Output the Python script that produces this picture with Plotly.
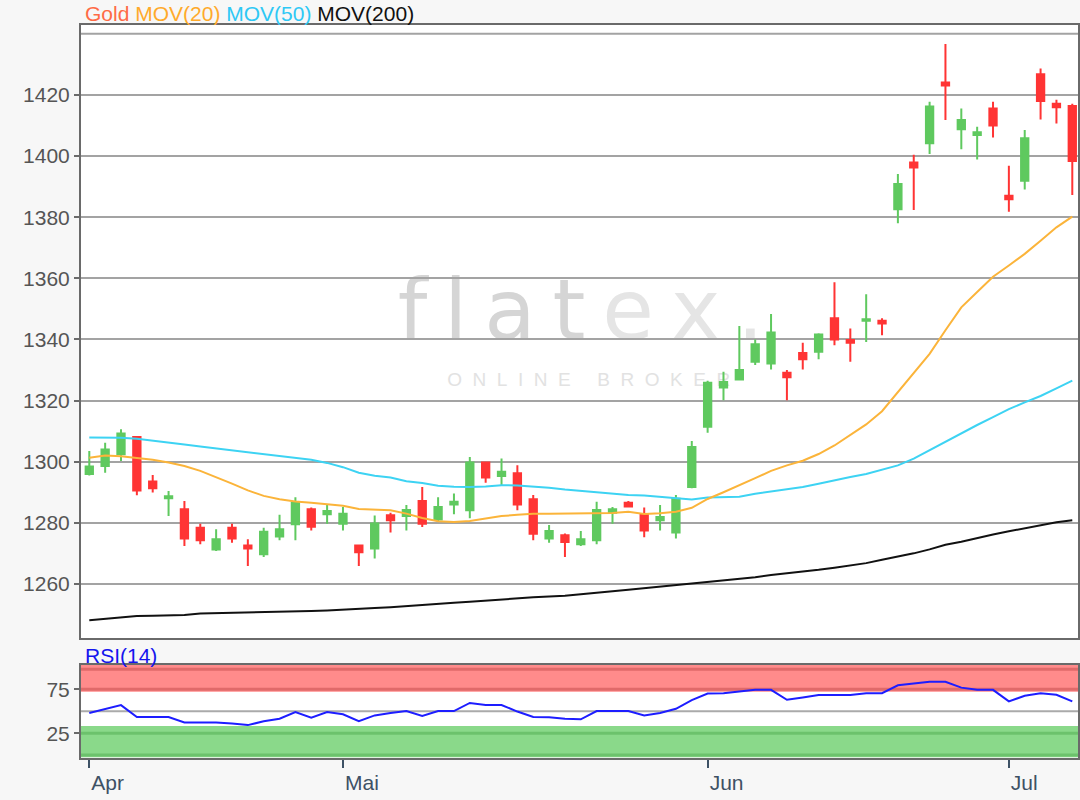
import plotly.graph_objects as go

# ---------------- data ----------------
dates = [
    "2019-04-08", "2019-04-09", "2019-04-10", "2019-04-11", "2019-04-12", "2019-04-15",
    "2019-04-16", "2019-04-17", "2019-04-18", "2019-04-22", "2019-04-23", "2019-04-24",
    "2019-04-25", "2019-04-26", "2019-04-29", "2019-04-30",
    "2019-05-01", "2019-05-02", "2019-05-03", "2019-05-06", "2019-05-07", "2019-05-08",
    "2019-05-09", "2019-05-10", "2019-05-13", "2019-05-14", "2019-05-15", "2019-05-16",
    "2019-05-17", "2019-05-20", "2019-05-21", "2019-05-22", "2019-05-23", "2019-05-24",
    "2019-05-27", "2019-05-28", "2019-05-29", "2019-05-30", "2019-05-31",
    "2019-06-03", "2019-06-04", "2019-06-05", "2019-06-06", "2019-06-07", "2019-06-10",
    "2019-06-11", "2019-06-12", "2019-06-14", "2019-06-17", "2019-06-18", "2019-06-19",
    "2019-06-20", "2019-06-21", "2019-06-24", "2019-06-25", "2019-06-26", "2019-06-27",
    "2019-06-28",
    "2019-07-01", "2019-07-02", "2019-07-03", "2019-07-04", "2019-07-05",
]

opens = [
    1296.0, 1298.6, 1302.4, 1308.1, 1293.5, 1288.0, 1284.4, 1278.4, 1271.3, 1278.4,
    1272.6, 1269.7, 1275.5, 1279.5, 1284.4, 1282.8,
    1279.7, 1272.6, 1271.6, 1282.5, 1282.2, 1287.1, 1281.1, 1286.0, 1284.1, 1299.7,
    1295.3, 1296.2, 1287.7, 1274.9, 1275.9, 1273.0, 1274.3, 1283.3, 1286.6, 1282.8,
    1280.8, 1276.8, 1291.7,
    1311.4, 1324.3, 1326.9, 1332.7, 1332.1, 1329.1, 1335.6, 1336.0, 1346.9, 1339.8,
    1346.1, 1346.1, 1382.6, 1397.9, 1404.2, 1424.1, 1408.8, 1406.9, 1415.6,
    1387.0, 1391.9, 1426.8, 1417.1, 1416.4,
]
highs = [
    1303.5, 1306.2, 1310.6, 1308.4, 1295.6, 1290.4, 1287.1, 1279.7, 1277.9, 1279.7,
    1274.6, 1278.4, 1282.6, 1288.4, 1285.0, 1285.8,
    1285.2, 1272.9, 1282.4, 1283.3, 1285.8, 1291.7, 1288.4, 1289.6, 1301.5, 1300.0,
    1301.0, 1298.8, 1289.1, 1279.3, 1276.5, 1277.3, 1286.9, 1285.2, 1287.1, 1285.0,
    1285.8, 1289.1, 1306.8,
    1326.5, 1329.4, 1344.4, 1340.0, 1348.3, 1330.0, 1338.9, 1342.0, 1358.7, 1343.6,
    1354.8, 1346.9, 1394.1, 1400.4, 1417.8, 1436.7, 1415.6, 1409.6, 1417.8,
    1396.8, 1408.5, 1428.7, 1418.4, 1417.1,
]
lows = [
    1295.5, 1296.4, 1300.2, 1289.0, 1289.9, 1282.2, 1272.4, 1273.0, 1270.8, 1273.5,
    1265.9, 1268.8, 1274.3, 1274.3, 1277.5, 1279.7,
    1277.5, 1265.9, 1268.3, 1276.8, 1277.5, 1278.6, 1280.6, 1282.8, 1281.5, 1293.1,
    1292.4, 1284.1, 1274.3, 1273.5, 1268.8, 1272.4, 1273.0, 1279.7, 1285.0, 1275.3,
    1277.5, 1274.9, 1291.3,
    1309.5, 1320.1, 1326.9, 1331.6, 1330.2, 1320.1, 1330.2, 1333.5, 1338.1, 1332.7,
    1339.2, 1341.4, 1378.0, 1382.4, 1400.7, 1411.8, 1402.2, 1398.9, 1406.1,
    1381.8, 1389.1, 1412.0, 1410.7, 1387.3,
]
closes = [
    1298.4, 1304.0, 1309.2, 1290.6, 1291.3, 1288.7, 1274.9, 1274.3, 1274.6, 1274.9,
    1271.6, 1277.1, 1277.9, 1286.6, 1278.7, 1283.9,
    1283.0, 1270.4, 1279.8, 1280.8, 1284.2, 1279.7, 1285.2, 1286.9, 1299.7, 1294.8,
    1296.7, 1286.0, 1276.4, 1277.3, 1273.7, 1274.6, 1284.2, 1284.4, 1285.3, 1277.5,
    1281.9, 1287.9, 1304.8,
    1325.8, 1326.1, 1330.0, 1338.4, 1342.3, 1327.6, 1333.5, 1341.6, 1340.0, 1338.9,
    1346.6, 1345.2, 1390.9, 1396.3, 1416.2, 1423.1, 1411.8, 1407.8, 1410.0,
    1385.9, 1405.8, 1418.0, 1416.0, 1398.4,
]

mov20 = [
    1301.3, 1302.0, 1301.8, 1301.2, 1300.6, 1299.7, 1298.6, 1297.0, 1295.0, 1292.8,
    1290.6, 1288.8, 1287.7, 1287.0, 1286.6, 1286.1,
    1285.6, 1284.5, 1284.3, 1284.1, 1283.0, 1281.6, 1280.5, 1280.3, 1280.6, 1281.5,
    1282.2, 1282.6, 1283.0, 1283.0, 1283.0, 1283.0, 1283.0, 1283.2, 1283.6, 1282.9,
    1283.1, 1283.6, 1284.9,
    1287.8, 1290.0, 1292.2, 1294.6, 1297.0, 1298.8, 1300.3, 1302.5, 1305.3, 1308.8,
    1312.2, 1316.5, 1322.8, 1329.3, 1335.3, 1343.0, 1350.5, 1355.5, 1360.5,
    1364.2, 1368.0, 1372.3, 1376.7, 1380.2,
]
mov50 = [
    1307.9, 1307.9, 1307.8, 1307.5, 1306.8, 1306.2, 1305.6, 1305.0, 1304.4, 1303.8,
    1303.2, 1302.6, 1302.0, 1301.3, 1300.6, 1299.6,
    1298.2, 1296.4, 1295.4, 1294.8, 1293.6, 1293.0, 1292.1, 1291.8, 1291.7, 1291.9,
    1292.3, 1292.2, 1291.9, 1291.5, 1290.9, 1290.4, 1289.9, 1289.4, 1289.1, 1288.9,
    1288.5, 1288.0, 1287.6,
    1288.3, 1288.5, 1288.5, 1289.5, 1290.3, 1291.0, 1291.7, 1292.8, 1294.0, 1295.0,
    1296.0, 1297.3, 1298.8, 1301.0, 1303.8, 1306.5, 1309.2, 1312.0, 1314.6,
    1317.2, 1319.4, 1321.5, 1324.0, 1326.5,
]
mov200 = [
    1248.1, 1248.6, 1249.2, 1249.5, 1249.6, 1249.7, 1249.8, 1250.3, 1250.4, 1250.5,
    1250.6, 1250.6, 1250.8, 1251.0, 1251.1, 1251.3,
    1251.5, 1251.8, 1252.1, 1252.4, 1252.7, 1253.1, 1253.5, 1253.8, 1254.2, 1254.6,
    1255.0, 1255.3, 1255.6, 1255.9, 1256.1, 1256.6, 1257.2, 1257.6, 1258.1, 1258.6,
    1259.2, 1259.7, 1260.2,
    1260.6, 1261.0, 1261.5, 1262.2, 1262.9, 1263.4, 1264.0, 1264.6, 1265.3, 1266.0,
    1266.8, 1267.9, 1268.9, 1270.0, 1271.3, 1272.8, 1273.8, 1275.1, 1276.2,
    1277.2, 1278.2, 1279.3, 1280.2, 1280.8,
]
rsi14 = [
    48.0, 52.5, 57.0, 43.5, 43.5, 43.5, 37.3, 37.3, 37.3, 36.0,
    34.3, 38.7, 41.6, 49.1, 42.8, 49.1,
    46.6, 38.7, 45.3, 48.0, 50.2, 44.6, 50.2, 50.2, 59.5, 57.2,
    57.2, 49.7, 43.5, 43.2, 41.6, 40.9, 50.2, 50.2, 50.2, 45.3,
    48.0, 52.8, 62.8,
    70.2, 70.5, 72.5, 74.4, 74.4, 63.1, 65.8, 68.4, 68.4, 68.4,
    70.5, 70.5, 79.5, 81.8, 83.6, 83.6, 76.9, 74.4, 74.4,
    61.3, 67.7, 70.5, 68.8, 61.3,
]

price_ticks = [1260, 1280, 1300, 1320, 1340, 1360, 1380, 1400, 1420]
price_tick_labels = ["1260", "1280", "1300", "1320", "1340", "1360", "1380", "1400", "1420"]
price_top_grid = 1440
rsi_ticks = [25, 75]
rsi_tick_labels = ["25", "75"]
month_tick_dates = ["2019-04-08", "2019-05-01", "2019-06-03", "2019-07-01"]
month_tick_labels = ["Apr", "Mai", "Jun", "Jul"]

# ---------------- styling ----------------
GREEN = "#5fc95f"
RED = "#ff3434"
FONT = "Liberation Sans, Arial, sans-serif"
FRAME = "#6a6a6a"
GRID = "#a3a3a3"

fig = go.Figure()

fig.add_trace(go.Candlestick(
    x=dates, open=opens, high=highs, low=lows, close=closes,
    increasing=dict(line=dict(color=GREEN, width=2), fillcolor=GREEN),
    decreasing=dict(line=dict(color=RED, width=2), fillcolor=RED),
    whiskerwidth=0, xaxis="x", yaxis="y", showlegend=False, name="Gold",
))
fig.add_trace(go.Scatter(x=dates, y=mov200, mode="lines", line=dict(color="#111111", width=2),
                         xaxis="x", yaxis="y", showlegend=False, name="MOV(200)"))
fig.add_trace(go.Scatter(x=dates, y=mov50, mode="lines", line=dict(color="#3dd3f3", width=2),
                         xaxis="x", yaxis="y", showlegend=False, name="MOV(50)"))
fig.add_trace(go.Scatter(x=dates, y=mov20, mode="lines", line=dict(color="#fbb43a", width=2),
                         xaxis="x", yaxis="y", showlegend=False, name="MOV(20)"))
fig.add_trace(go.Scatter(x=dates, y=rsi14, mode="lines", line=dict(color="#1d1dff", width=2),
                         xaxis="x2", yaxis="y2", showlegend=False, name="RSI(14)"))

shapes = []
# top gridline of the price panel (no tick label)
shapes.append(dict(type="line", xref="x domain", yref="y", x0=0, x1=1,
                   y0=price_top_grid, y1=price_top_grid,
                   line=dict(color=GRID, width=2), layer="below"))
# RSI bands
shapes.append(dict(type="rect", xref="x2 domain", yref="y2", x0=0, x1=1, y0=72.3, y1=102.6,
                   fillcolor="#ff8b8b", line=dict(width=0), layer="below"))
shapes.append(dict(type="rect", xref="x2 domain", yref="y2", x0=0, x1=1, y0=-2.5, y1=33.3,
                   fillcolor="#8ad98a", line=dict(width=0), layer="below"))
for yv in (75, 97.7):
    shapes.append(dict(type="line", xref="x2 domain", yref="y2", x0=0, x1=1, y0=yv, y1=yv,
                       line=dict(color="#e06a6a", width=3), layer="below"))
for yv in (25, 0.3):
    shapes.append(dict(type="line", xref="x2 domain", yref="y2", x0=0, x1=1, y0=yv, y1=yv,
                       line=dict(color="#6cc26c", width=3), layer="below"))
shapes.append(dict(type="line", xref="x2 domain", yref="y2", x0=0, x1=1, y0=50, y1=50,
                   line=dict(color="#aaaaaa", width=2), layer="below"))

# watermark (below the data)
TS = "\u2009"
shapes.append(dict(type="rect", xref="x", yref="y", x0=20, x1=42, y0=1341.5, y1=1361.5,
                   line=dict(width=0), fillcolor="rgba(0,0,0,0)", layer="below",
                   label=dict(text=TS.join("flat") + TS + "<span style='color:#e5e5e5'>" + TS.join("ex.") + "</span>",
                              font=dict(family="DejaVu Sans, sans-serif", size=84, color="#d5d5d5"),
                              textposition="middle center")))
NB = "\u00a0"
shapes.append(dict(type="rect", xref="x", yref="y", x0=21, x1=42, y0=1322, y1=1333,
                   line=dict(width=0), fillcolor="rgba(0,0,0,0)", layer="below",
                   label=dict(text=(NB * 2).join("ONLINE") + NB * 5 + (NB * 2).join("BROKER"),
                              font=dict(family=FONT, size=19, color="#e2e2e2"),
                              textposition="middle center")))

annotations = [
    dict(xref="paper", yref="paper", x=83 / 1080, y=1 - 14 / 800, xanchor="left", yanchor="middle",
         showarrow=False, font=dict(family=FONT, size=21),
         text="<span style='color:#ff6a45'>Gold</span> <span style='color:#ffaa2b'>MOV(20)</span> "
              "<span style='color:#2ec8f5'>MOV(50)</span> <span style='color:#111111'>MOV(200)</span>"),
    dict(xref="paper", yref="paper", x=83 / 1080, y=1 - 655 / 800, xanchor="left", yanchor="middle",
         showarrow=False, font=dict(family=FONT, size=21, color="#1515ee"), text="RSI(14)"),
]

x_range = [-0.523, 62.36]
x_dom = [81 / 1080, 1078 / 1080]

fig.update_layout(
    template="none",
    width=1080, height=800,
    margin=dict(l=0, r=0, t=0, b=0, autoexpand=False),
    paper_bgcolor="#f7f7f7", plot_bgcolor="#ffffff",
    font=dict(family=FONT, size=21, color="#555555"),
    showlegend=False,
    boxgap=0.34,
    shapes=shapes,
    annotations=annotations,
    xaxis=dict(type="category", domain=x_dom, range=x_range, anchor="y",
               showticklabels=False, ticks="", showgrid=False, zeroline=False,
               showline=True, mirror=True, linecolor=FRAME, linewidth=2,
               rangeslider=dict(visible=False), automargin=False),
    yaxis=dict(domain=[1 - 638 / 800, 1 - 25 / 800], range=[1242.3, 1442.9], anchor="x",
               tickmode="array", tickvals=price_ticks, ticktext=price_tick_labels,
               ticks="outside", ticklen=5, tickwidth=2, tickcolor=FRAME,
               showgrid=True, gridcolor=GRID, gridwidth=2, zeroline=False,
               showline=True, mirror=True, linecolor=FRAME, linewidth=2,
               tickfont=dict(family=FONT, size=21, color="#555555"), automargin=False),
    xaxis2=dict(type="category", domain=x_dom, range=x_range, anchor="y2", matches="x",
                tickmode="array", tickvals=month_tick_dates, ticktext=month_tick_labels,
                ticks="outside", ticklen=8, tickwidth=2, tickcolor="#3e5165",
                ticklabelposition="outside right", ticklabelstandoff=5,
                tickfont=dict(family=FONT, size=21, color="#3e5165"),
                showgrid=False, zeroline=False,
                showline=True, mirror=True, linecolor=FRAME, linewidth=2, automargin=False),
    yaxis2=dict(domain=[1 - 757.5 / 800, 1 - 665 / 800], range=[-2.5, 102.6], anchor="x2",
                tickmode="array", tickvals=rsi_ticks, ticktext=rsi_tick_labels,
                ticks="outside", ticklen=5, tickwidth=2, tickcolor=FRAME,
                showgrid=False, zeroline=False,
                showline=True, mirror=True, linecolor=FRAME, linewidth=2,
                tickfont=dict(family=FONT, size=21, color="#555555"), automargin=False),
)

fig.write_html("out.html", config={"displayModeBar": False},
               post_script="document.body.style.margin='0px';document.body.style.overflow='hidden';")
